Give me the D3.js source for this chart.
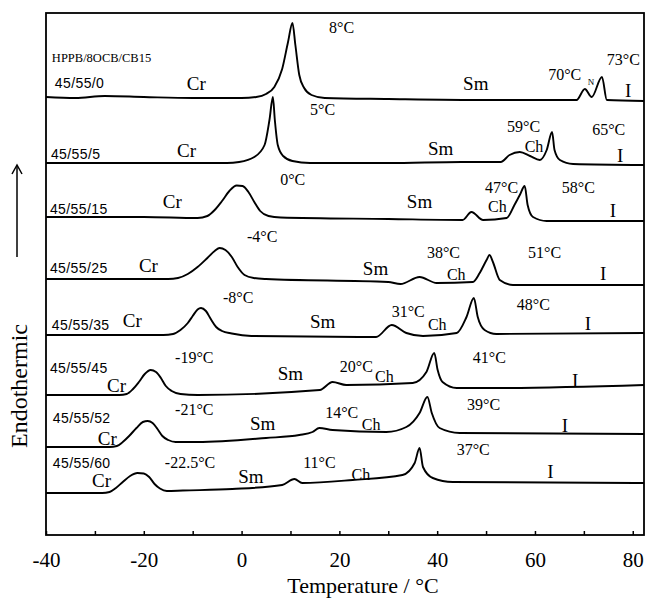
<!DOCTYPE html>
<html>
<head>
<meta charset="utf-8">
<script src="https://cdn.jsdelivr.net/npm/d3@7"></script>
<style>
  body { margin: 0; background: #fff; }
  svg { display: block; }
</style>
</head>
<body>
<div id="chart"></div>
<script>
// DSC heating curves, HPPB/8OCB/CB15 mixtures (arb. heat flow, curves offset)
const tempTicks = [-40, -30, -20, -10, 0, 10, 20, 30, 40, 50, 60, 70, 80];

const samples = ["45/55/0", "45/55/5", "45/55/15", "45/55/25", "45/55/35", "45/55/45", "45/55/52", "45/55/60"];

// [temperature °C, heat flow]
const dsc0 = [[-40,440],[-34,439],[-28,441],[-20,440],[-10,439],[0,439],[3,440],[5,443],[6.7,450],[8.3,468],[9.5,495],[10.4,514],[11,492],[11.8,462],[12.8,449],[14.3,442],[17,439],[30,438],[50,437],[68.5,437],[70.2,448],[71.6,440],[73.7,460],[74.7,437],[82.3,436]];
const dsc5 = [[-40,374],[-20,374],[-3,374],[-0.5,375],[2.6,380],[4.7,392],[5.7,417],[6.4,440],[6.8,417],[7.4,392],[8.5,381],[10.4,376],[14,374],[30,374],[45,375],[53,375],[54.8,382],[56.9,385],[59,381],[61,377],[62.4,387],[63.5,405],[64,387],[65.1,377],[67.8,373],[82.3,372]];
const dsc15 = [[-40,320],[-20,320],[-9,319],[-7,321],[-5.5,327],[-4,336],[-2.5,346],[-1,351.5],[0.2,351],[1.4,345],[2.6,335],[3.8,326],[5.5,321],[8,319.5],[30,318],[45.2,317],[47,325],[49.4,317],[54.2,319],[55.8,332],[56.9,342],[57.9,351],[58.5,332],[59.6,320],[62.4,316],[82.3,316]];
const dsc25 = [[-40,258],[-15,258],[-13,259],[-11,263],[-9,270],[-7,279],[-5.5,286],[-4.5,289],[-3.3,287],[-2,280],[-0.8,270],[0.6,262],[2.5,259],[5,258],[30,255],[32.5,253],[36.4,260],[39.9,254],[47.3,255],[48.7,264],[50.1,277],[50.7,282],[51.4,275],[52.8,257],[55.5,252],[82.3,252]];
const dsc35 = [[-40,202],[-16,202],[-14,203],[-12.5,207],[-11,214],[-10,221],[-9,227.5],[-8.3,229],[-7.3,226],[-6.3,218],[-5.2,210],[-4,206],[-2,203.5],[2,201],[27.5,200],[30.7,212],[33.7,204],[37.1,201],[44,204],[46,220],[47.5,239],[48.3,220],[49.7,207],[52.1,203],[82.3,204]];
const dsc45 = [[-40,142],[-25,142],[-23.5,143],[-22.2,148],[-21,155],[-19.8,163],[-18.6,167],[-17.5,165],[-16.5,159],[-15.5,151],[-14.3,146],[-12.5,143],[-9,142],[16,147],[18.6,155],[21.4,152],[35,154],[37.8,165],[39.4,184],[40.1,167],[41.1,155],[44,149],[52.8,149],[82.3,152]];
const dsc52 = [[-40,90],[-27,90],[-25.5,91],[-24.3,95],[-23,101],[-21.5,109],[-20.2,115],[-19.2,116],[-18.2,114],[-17.2,108],[-16.2,101],[-15,97],[-13.5,95],[-9,95],[5,99],[11.8,102],[14.5,105],[15.9,109],[18.6,107],[29.6,105],[33.7,110],[36.4,124],[38,140],[38.9,124],[40.5,109],[44.6,104],[82.3,103]];
const dsc60 = [[-40,44],[-28.5,44],[-27,45],[-25.7,49],[-24.3,55],[-22.8,61],[-21.3,64],[-20,63.5],[-18.9,60],[-17.8,53],[-16.7,48.5],[-15.3,46],[-12,46.5],[-1.9,48],[8.3,52],[10.8,58],[12.4,54],[22.7,57],[32.9,62],[35.4,74],[36.4,89],[37.1,70],[39.1,59],[43.2,55],[82.3,54]];

const curves = [dsc0, dsc5, dsc15, dsc25, dsc35, dsc45, dsc52, dsc60];

// sample label anchors [T, heat flow]
const sampleAnchors = [[-38.2,449],[-39,378],[-39.2,323],[-39.2,264],[-38.8,207],[-39.2,164],[-38.6,114],[-38.6,69]];

// transition temperature labels [text, T, heat flow]
const tempLabels = [
  ["8°C",17.9,504],["5°C",14,422],["70°C",62.7,457],["73°C",74.7,472],
  ["59°C",54.3,405],["65°C",71.7,402],["0°C",7.9,352],["47°C",49.8,344],["58°C",65.5,344],
  ["-4°C",1.1,295],["38°C",37.9,279],["51°C",58.6,279],
  ["-8°C",-3.8,234],["31°C",30.7,220],["48°C",56.3,227],
  ["-19°C",-13.6,174],["20°C",20.1,165],["41°C",47.3,174],
  ["-21°C",-13.6,122],["14°C",17.1,119],["39°C",46.1,127],
  ["-22.5°C",-15.7,69],["11°C",12.6,69],["37°C",44,82]
];

// phase labels [text, T, heat flow]
const phaseLabels = [
  ["Cr",-11.2,447],["Sm",45.3,447],["I",78.4,440],
  ["Cr",-13.2,380],["Sm",38.1,382],["Ch",57.9,385],["I",76.8,375],
  ["Cr",-16.1,329],["Sm",33.8,329],["Ch",50.4,325],["I",75.3,320],
  ["Cr",-21,265],["Sm",24.8,262],["Ch",42,257],["I",73.3,257],
  ["Cr",-24.3,210],["Sm",14,209],["Ch",38.1,207],["I",70.2,207],
  ["Cr",-27.5,145],["Sm",7.4,157],["Ch",27.3,155],["I",67.6,150],
  ["Cr",-29.4,92],["Sm",1.7,107],["Ch",24.6,107],["I",65.5,105],
  ["Cr",-30.6,50],["Sm",-0.7,54],["Ch",22.5,57],["I",62.5,59]
];

const width = 647;
const height = 602;
const serif = "'Liberation Serif', 'Times New Roman', serif";
const sans = "'Liberation Sans', Arial, sans-serif";

const svg = d3.select("#chart")
    .append("svg")
    .attr("width", width)
    .attr("height", height)
    .attr("viewBox", [0, 0, width, height]);

svg.append("rect").attr("width", width).attr("height", height).attr("fill", "#fff");

const x = d3.scaleLinear([-40, 82.3], [46, 644]);
const y = d3.scaleLinear([0, 524], [537, 13]);

// frame
svg.append("rect")
    .attr("x", x(-40))
    .attr("y", y(524))
    .attr("width", x(82.3) - x(-40))
    .attr("height", y(2) - y(524))
    .attr("fill", "none")
    .attr("stroke", "#000")
    .attr("stroke-width", 1.8);

// bottom axis, ticks pointing inward
svg.append("g")
    .attr("transform", `translate(0,${y(2)})`)
    .call(d3.axisBottom(x)
        .tickValues(tempTicks)
        .tickSize(-4)
        .tickPadding(17)
        .tickFormat(d => d % 20 === 0 ? String(d) : ""))
    .call(g => g.select(".domain").remove())
    .call(g => g.selectAll(".tick line").attr("stroke-width", 1.5))
    .call(g => g.selectAll(".tick text")
        .attr("font-family", serif)
        .attr("font-size", 21)
        .attr("fill", "#000"));

svg.append("text")
    .attr("x", 363)
    .attr("y", 593)
    .attr("text-anchor", "middle")
    .attr("font-family", serif)
    .attr("font-size", 22)
    .text("Temperature / °C");

svg.append("text")
    .attr("transform", "translate(27,386) rotate(-90)")
    .attr("text-anchor", "middle")
    .attr("font-family", serif)
    .attr("font-size", 24)
    .text("Endothermic");

// arrow
svg.append("line")
    .attr("x1", 17).attr("x2", 17)
    .attr("y1", 257).attr("y2", 166)
    .attr("stroke", "#000").attr("stroke-width", 1.5);
svg.append("path")
    .attr("d", "M12,174L17,165L22,174")
    .attr("fill", "none").attr("stroke", "#000").attr("stroke-width", 1.5);

// curves
const line = d3.line()
    .x(d => x(d[0]))
    .y(d => y(d[1]))
    .curve(d3.curveMonotoneX);

svg.append("g")
    .selectAll("path")
    .data(curves)
    .join("path")
    .attr("d", line)
    .attr("fill", "none")
    .attr("stroke", "#000")
    .attr("stroke-width", 1.9)
    .attr("stroke-linejoin", "round");

// labels
svg.append("text")
    .attr("x", x(-38.8))
    .attr("y", y(475))
    .attr("font-family", serif)
    .attr("font-size", 12.5)
    .text("HPPB/8OCB/CB15");

svg.append("g")
    .selectAll("text")
    .data(samples)
    .join("text")
    .attr("x", (d, i) => x(sampleAnchors[i][0]))
    .attr("y", (d, i) => y(sampleAnchors[i][1]))
    .attr("font-family", sans)
    .attr("font-size", 14)
    .attr("letter-spacing", 0.4)
    .text(d => d);

svg.append("g")
    .selectAll("text")
    .data(tempLabels)
    .join("text")
    .attr("x", d => x(d[1]))
    .attr("y", d => y(d[2]))
    .attr("font-family", serif)
    .attr("font-size", 16)
    .text(d => d[0]);

svg.append("g")
    .selectAll("text")
    .data(phaseLabels)
    .join("text")
    .attr("x", d => x(d[1]))
    .attr("y", d => y(d[2]))
    .attr("font-family", serif)
    .attr("font-size", d => d[0] === "Ch" ? 16 : 19)
    .text(d => d[0]);

svg.append("text")
    .attr("x", x(70.8))
    .attr("y", y(452))
    .attr("font-family", serif)
    .attr("font-size", 9)
    .text("N");
</script>
</body>
</html>
